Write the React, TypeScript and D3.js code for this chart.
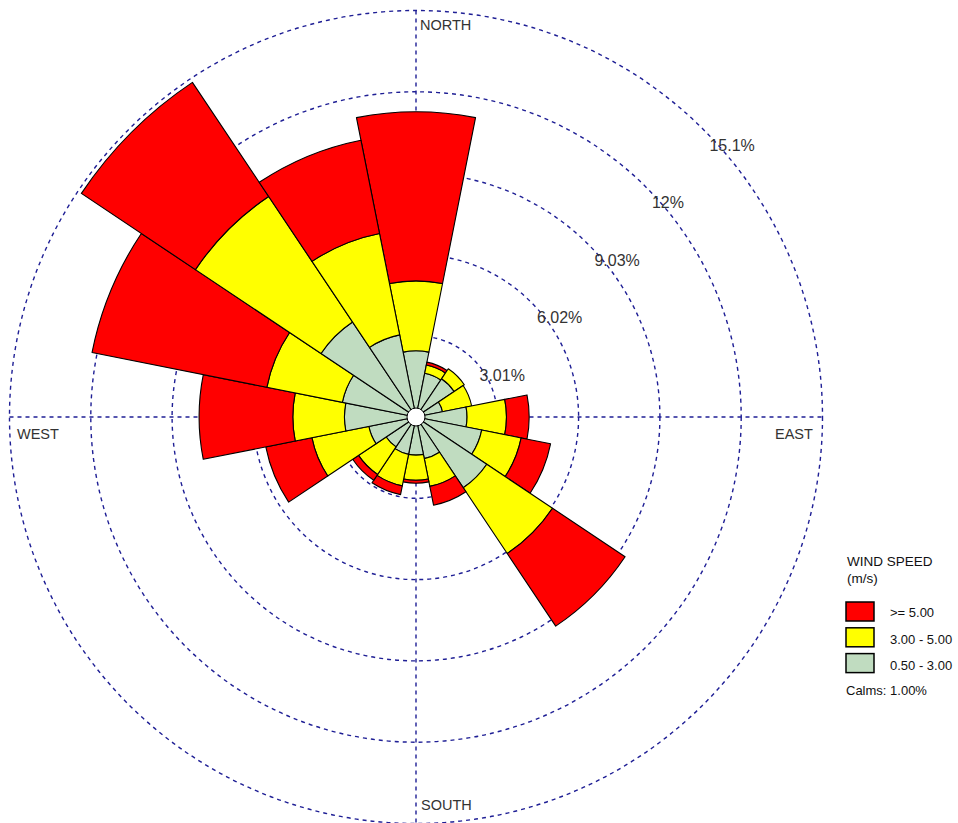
import React from "react";
import * as d3 from "d3";

const directions = ["N", "NNE", "NE", "ENE", "E", "ESE", "SE", "SSE", "S", "SSW", "SW", "WSW", "W", "WNW", "NW", "NNW"];
// frequency (%) per speed class
const calmToThree = [2.45, 1.65, 1.7, 1.0, 1.89, 2.48, 3.15, 1.57, 1.41, 1.41, 1.33, 1.78, 2.65, 2.78, 4.23, 3.1];
const threeToFive = [2.59, 0.31, 0.45, 1.1, 1.46, 1.49, 2.93, 1.05, 0.93, 1.19, 1.23, 2.15, 1.91, 2.85, 5.59, 3.83];
const fivePlus = [6.26, 0.11, 0, 0, 0.84, 1.11, 3.23, 0.71, 0.11, 0.33, 0.26, 1.74, 3.47, 6.6, 5.08, 3.52];

const ringValues = [3.01, 6.02, 9.03, 12.04, 15.05];
const ringLabels = ["3.01%", "6.02%", "9.03%", "12%", "15.1%"];
const compassLabels = ["NORTH", "EAST", "SOUTH", "WEST"];

const legendTitle = ["WIND SPEED", "(m/s)"];
const legendClasses = [">= 5.00", "3.00 - 5.00", "0.50 - 3.00"];
const classColors = ["#FF0000", "#FFFF00", "#C0DCC0"];
const calmsText = "Calms: 1.00%";

const W = 958;
const H = 823;
const cx = 416;
const cy = 417;
const R = 406.5;
const font = "'Liberation Sans', Arial, Helvetica, sans-serif";
const gridColor = "#1f1f95";
const textColor = "#333333";

export default function App() {
  const r = d3.scaleLinear().domain([0, 15.05]).range([0, R]);
  const half = Math.PI / 16;
  const arc = d3.arc<any>();

  const wedges: { d: string; fill: string }[] = [];
  directions.forEach((dir, i) => {
    const a = (i * Math.PI) / 8;
    const bands = [calmToThree[i], threeToFive[i], fivePlus[i]];
    const fills = [classColors[2], classColors[1], classColors[0]];
    let acc = 0;
    bands.forEach((v, k) => {
      if (v <= 0) return;
      const d = arc({
        innerRadius: r(acc),
        outerRadius: r(acc + v),
        startAngle: a - half,
        endAngle: a + half,
      }) as string;
      wedges.push({ d, fill: fills[k] });
      acc += v;
    });
  });

  const dash = "4,4";
  const labelPos = [
    { x: 420, y: 30 },
    { x: 775, y: 439 },
    { x: 421, y: 810 },
    { x: 17, y: 439 },
  ];

  return (
    <svg width={W} height={H} style={{ position: "absolute", left: 0, top: 0, background: "#fff" }}>
      <rect x={0} y={0} width={W} height={H} fill="#fff" />
      <g>
        {ringValues.map((v, i) => (
          <circle key={i} cx={cx} cy={cy} r={r(v)} fill="none" stroke={gridColor} strokeWidth={1.4} strokeDasharray={dash} />
        ))}
        <line x1={cx} y1={cy - R} x2={cx} y2={cy + R} stroke={gridColor} strokeWidth={1.4} strokeDasharray={dash} />
        <line x1={cx - R} y1={cy} x2={cx + R} y2={cy} stroke={gridColor} strokeWidth={1.4} strokeDasharray={dash} />
      </g>
      <g transform={`translate(${cx},${cy})`}>
        {wedges.map((w, i) => (
          <path key={i} d={w.d} fill={w.fill} stroke="#000" strokeWidth={1.1} strokeLinejoin="round" />
        ))}
        <circle r={9} fill="#fff" stroke="#000" strokeWidth={1} />
      </g>
      <g fontFamily={font} fill={textColor}>
        {ringValues.map((v, i) => {
          const p = r(v) / Math.SQRT2;
          return (
            <text key={i} x={cx + p + 6} y={cy - p + 21} fontSize={16}>
              {ringLabels[i]}
            </text>
          );
        })}
        {compassLabels.map((t, i) => (
          <text key={t} x={labelPos[i].x} y={labelPos[i].y} fontSize={14.5}>
            {t}
          </text>
        ))}
      </g>
      <g fontFamily={font} fill="#111">
        <text x={847} y={566} fontSize={13.5}>{legendTitle[0]}</text>
        <text x={847} y={583} fontSize={13.5}>{legendTitle[1]}</text>
        {legendClasses.map((t, i) => (
          <g key={t}>
            <rect x={846} y={602 + i * 25.8} width={28} height={19} fill={classColors[i]} stroke="#000" strokeWidth={1.5} />
            <text x={890} y={617 + i * 26.5} fontSize={13}>{t}</text>
          </g>
        ))}
        <text x={846} y={695} fontSize={13}>{calmsText}</text>
      </g>
    </svg>
  );
}
